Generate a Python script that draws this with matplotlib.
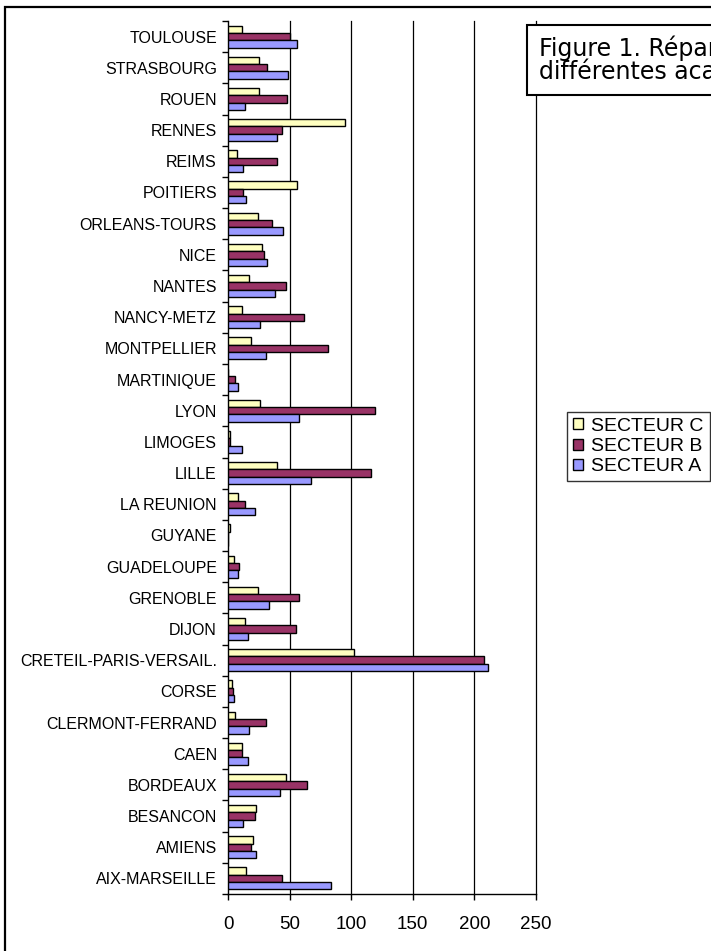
import matplotlib
matplotlib.use("Agg")
import matplotlib.pyplot as plt
from matplotlib.patches import Rectangle, Patch
import numpy as np

plt.rcParams['font.family'] = ['Liberation Sans', 'DejaVu Sans']

# Academies, listed bottom to top
academies = [
    "AIX-MARSEILLE", "AMIENS", "BESANCON", "BORDEAUX", "CAEN",
    "CLERMONT-FERRAND", "CORSE", "CRETEIL-PARIS-VERSAIL.", "DIJON",
    "GRENOBLE", "GUADELOUPE", "GUYANE", "LA REUNION", "LILLE", "LIMOGES",
    "LYON", "MARTINIQUE", "MONTPELLIER", "NANCY-METZ", "NANTES", "NICE",
    "ORLEANS-TOURS", "POITIERS", "REIMS", "RENNES", "ROUEN", "STRASBOURG",
    "TOULOUSE",
]
secteur_c = [15, 20, 23, 47, 11, 6, 3, 102, 14, 24, 5, 2, 8, 40, 2,
             26, 0, 19, 11, 17, 28, 24, 56, 7, 95, 25, 25, 11]
secteur_b = [44, 19, 22, 64, 11, 31, 4, 208, 55, 58, 9, 0, 14, 116, 2,
             119, 6, 81, 62, 47, 29, 36, 12, 40, 44, 48, 32, 50]
secteur_a = [84, 23, 12, 42, 16, 17, 5, 211, 16, 33, 8, 0, 22, 67, 11,
             58, 8, 31, 26, 38, 32, 45, 15, 12, 40, 14, 49, 56]
x_ticks = [0, 50, 100, 150, 200, 250]

col_c = "#FFFFC0"
col_b = "#993366"
col_a = "#9999FF"

W, H = 711, 951
fig = plt.figure(figsize=(W / 100, H / 100), dpi=100)

ax_left, ax_right, ax_top, ax_bottom = 228, 536, 21, 894
ax = fig.add_axes([ax_left / W, 1 - ax_bottom / H,
                   (ax_right - ax_left) / W, (ax_bottom - ax_top) / H])

y = np.arange(len(academies))
h = 0.235
kw = dict(height=h, edgecolor="black", linewidth=1.0, zorder=3)
ax.barh(y + h, secteur_c, color=col_c, **kw)
ax.barh(y, secteur_b, color=col_b, **kw)
ax.barh(y - h, secteur_a, color=col_a, **kw)

ax.set_xlim(0, 250)
ax.set_ylim(-0.5, len(academies) - 0.5)

# vertical gridlines
for v in x_ticks[1:]:
    ax.axvline(v, color="black", linewidth=0.9, zorder=1, clip_on=False)

for s in ["top", "right"]:
    ax.spines[s].set_visible(False)
for s in ["left", "bottom"]:
    ax.spines[s].set_color("black")
    ax.spines[s].set_linewidth(1.0)

ax.set_xticks(x_ticks)
ax.set_xticklabels([str(t) for t in x_ticks], fontsize=13.5)
ax.tick_params(axis="x", direction="out", length=4.5, width=1.0, pad=11)

ax.set_yticks(y)
ax.set_yticklabels(academies, fontsize=11.5)
ax.tick_params(axis="y", which="major", length=0, pad=8)
ax.set_yticks(np.arange(len(academies) + 1) - 0.5, minor=True)
ax.tick_params(axis="y", which="minor", direction="out", length=4, width=1.0)

# outer frame of the chart area
fig.add_artist(Rectangle((5 / W, -0.05), 1.2, (1 - 7 / H) + 0.05,
                         transform=fig.transFigure, fill=False,
                         edgecolor="black", linewidth=1.6, clip_on=False))

# title box
fig.add_artist(Rectangle((527 / W, 1 - 95 / H), 0.5, 70 / H,
                         transform=fig.transFigure, facecolor="white",
                         edgecolor="black", linewidth=1.5, clip_on=False))
fig.text(539 / W, 1 - 60 / H,
         "Figure 1. Répartition par secteur dans les\ndifférentes académies",
         fontsize=17, family=["DejaVu Sans"], ha="left", va="center",
         linespacing=0.95)

handles = [Patch(facecolor=col_c, edgecolor="black", linewidth=1.0),
           Patch(facecolor=col_b, edgecolor="black", linewidth=1.0),
           Patch(facecolor=col_a, edgecolor="black", linewidth=1.0)]
leg = fig.legend(handles, ["SECTEUR C", "SECTEUR B", "SECTEUR A"],
                 loc="upper left", bbox_to_anchor=(567 / W, 1 - 412 / H),
                 bbox_transform=fig.transFigure, fontsize=14,
                 frameon=True, fancybox=False, borderaxespad=0,
                 borderpad=0.3, labelspacing=0.17, handlelength=0.5,
                 handleheight=0.5, handletextpad=0.45)
leg.get_frame().set_edgecolor("black")
leg.get_frame().set_linewidth(1.0)

fig.savefig("out.png", dpi=100)
